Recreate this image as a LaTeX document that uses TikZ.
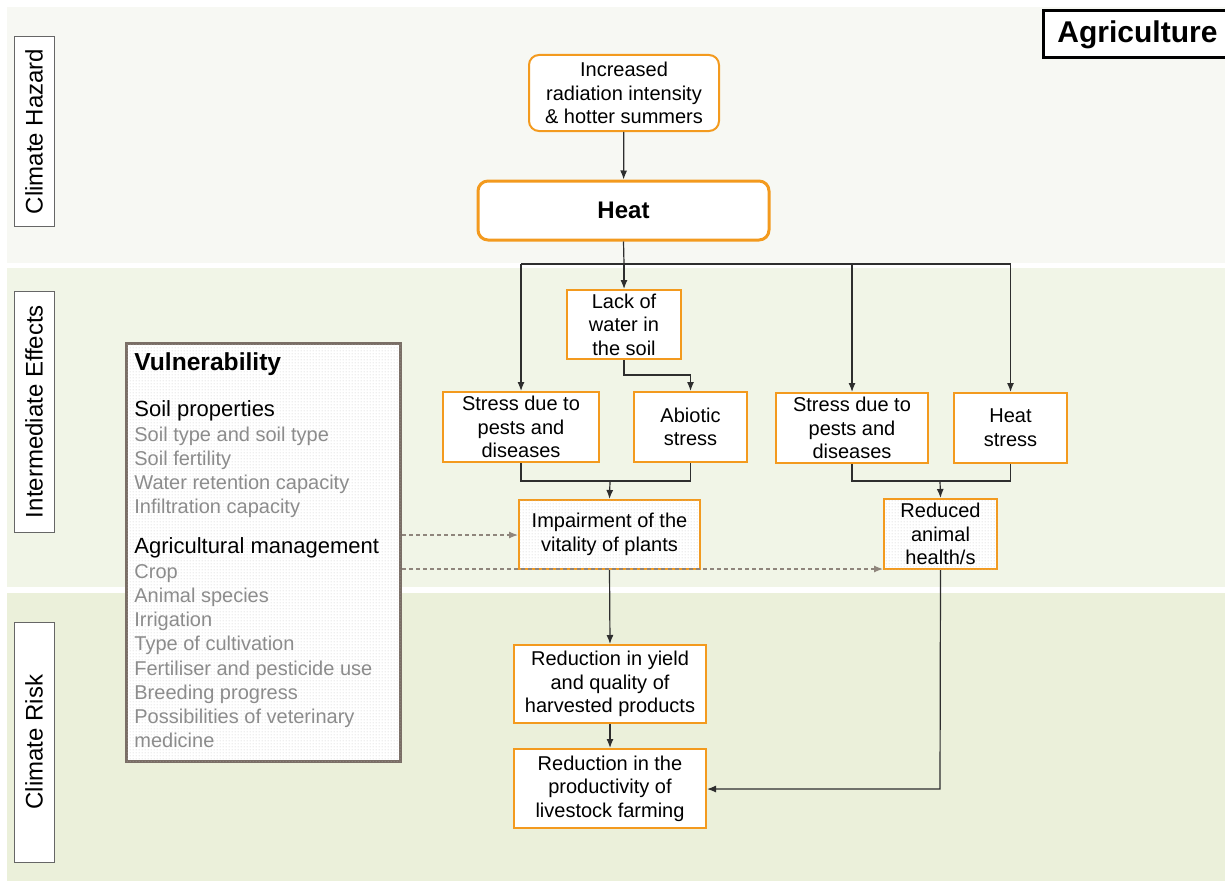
\documentclass[tikz,border=0pt]{standalone}
\usepackage{fontspec}
\setmainfont{Liberation Sans}
\usetikzlibrary{arrows.meta,patterns.meta}

\definecolor{bandA}{HTML}{F7F8F3}
\definecolor{bandB}{HTML}{F1F5E7}
\definecolor{bandC}{HTML}{EBF0DA}
\definecolor{orng}{HTML}{F39A1E}
\definecolor{wire}{HTML}{2E2E2E}
\definecolor{vulbrown}{HTML}{7A6E66}
\definecolor{dashbrown}{HTML}{8F857C}
\definecolor{itemgray}{HTML}{8C8C8C}
\definecolor{dotgray}{HTML}{BDBDBD}

\tikzdeclarepattern{
  name=finedots,
  type=uncolored,
  bounding box={(0,0) and (1.5pt,1.5pt)},
  tile size={(1.5pt,1.5pt)},
  code={\fill (0.75pt,0.75pt) circle (0.3pt);}
}

\tikzset{
  effectbox/.style={draw=orng, line width=1pt, fill=white, align=center,
    font=\fontsize{10}{11.8}\selectfont, inner sep=1pt},
  dotbox/.style={effectbox, postaction={pattern=finedots, pattern color=dotgray}},
  sidelabel/.style={draw=gray!80!black, line width=0.5pt, fill=white, rotate=90,
    font=\fontsize{12}{14}\selectfont, minimum height=20pt, inner sep=1pt},
  flow/.style={draw=wire, line width=0.6pt},
  arr/.style={flow, -{Latex[length=4.5pt,width=3.5pt]}},
  influence/.style={draw=dashbrown, line width=0.6pt, dash pattern=on 2pt off 1.5pt,
    -{Latex[length=4.5pt,width=3.5pt]}},
  vulhead/.style={anchor=base west, inner sep=0pt},
  vulitem/.style={anchor=base west, inner sep=0pt, text=itemgray,
    font=\fontsize{10}{12}\selectfont},
}

\begin{document}
\begin{tikzpicture}[x=0.5pt, y=-0.5pt]
\useasboundingbox (0,0) rectangle (1225,883);
\fill[white] (0,0) rectangle (1225,883);

% horizontal bands
\fill[bandA] (7,7) rectangle (1225,263);
\fill[bandB] (7,268) rectangle (1225,587);
\fill[bandC] (7,593) rectangle (1225,881);

% band labels
\node[sidelabel, minimum width=94.5pt] (lhaz) at (34,131.5) {Climate Hazard};
\node[sidelabel, minimum width=120.5pt] (leff) at (34,411.5) {Intermediate Effects};
\node[sidelabel, minimum width=120pt] (lrisk) at (34,742) {Climate Risk};

% title, its frame runs past the right edge
\draw[black, line width=1.5pt, fill=white] (1043,11) rectangle (1240,58);
\node[anchor=west, inner sep=0pt, font=\bfseries\fontsize{15}{17}\selectfont]
  (title) at (1057,34.5) {Agriculture};

% hazard chain
\node[effectbox, rounded corners=5pt, minimum width=95pt, minimum height=38pt]
  (inc) at (624,93) {Increased\\radiation intensity\\\& hotter summers};
\node[effectbox, rounded corners=5pt, line width=1.5pt, minimum width=145.5pt,
  minimum height=29.5pt, font=\bfseries\fontsize{12}{14}\selectfont]
  (heat) at (623.5,210.5) {Heat};

% intermediate effects
\node[effectbox, minimum width=57pt, minimum height=34.5pt] (lack) at (624,324.5) {Lack of\\water in\\the soil};
\node[effectbox, minimum width=78pt, minimum height=35pt] (pestsA) at (521,427) {Stress due to\\pests and\\diseases};
\node[effectbox, minimum width=56.5pt, minimum height=35pt] (abio) at (690.5,427) {Abiotic\\stress};
\node[effectbox, minimum width=76pt, minimum height=35pt] (pestsB) at (852,428) {Stress due to\\pests and\\diseases};
\node[effectbox, minimum width=56.5pt, minimum height=35pt] (hstress) at (1010.5,428) {Heat\\stress};
\node[dotbox, minimum width=90.5pt, minimum height=34.5pt] (vital) at (609.5,534.5) {Impairment of the\\vitality of plants};
\node[dotbox, minimum width=56.5pt, minimum height=35pt] (animal) at (940.5,534) {Reduced\\animal\\health/s};

% climate risks
\node[effectbox, minimum width=96pt, minimum height=39pt] (yield) at (610,684) {Reduction in yield\\and quality of\\harvested products};
\node[effectbox, minimum width=96pt, minimum height=39.5pt] (prod) at (610,788.5) {Reduction in the\\productivity of\\livestock farming};

% vulnerability panel
\node[draw=vulbrown, line width=1.5pt, fill=white,
  postaction={pattern=finedots, pattern color=dotgray},
  anchor=north west, minimum width=137pt, minimum height=209pt, inner sep=0pt]
  (vul) at (125,342) {};
\node[vulhead, font=\bfseries\fontsize{12.3}{14}\selectfont] (vtitle) at (134,370) {Vulnerability};
\node[vulhead, font=\fontsize{11}{13}\selectfont] (vsoil) at (134,416) {Soil properties};
\node[vulitem] (v1) at (134,441) {Soil type and soil type};
\node[vulitem] (v2) at (134,465) {Soil fertility};
\node[vulitem] (v3) at (134,489) {Water retention capacity};
\node[vulitem] (v4) at (134,513) {Infiltration capacity};
\node[vulhead, font=\fontsize{11}{13}\selectfont] (vman) at (134,553) {Agricultural management};
\node[vulitem] (m1) at (134,578) {Crop};
\node[vulitem] (m2) at (134,602) {Animal species};
\node[vulitem] (m3) at (134,626) {Irrigation};
\node[vulitem] (m4) at (134,650) {Type of cultivation};
\node[vulitem] (m5) at (134,675) {Fertiliser and pesticide use};
\node[vulitem] (m6) at (134,699) {Breeding progress};
\node[vulitem] (m7) at (134,723) {Possibilities of veterinary};
\node[vulitem] (m8) at (134,747) {medicine};

% connectors
\coordinate (bus) at (624,264);
\coordinate (joinA) at (610,481);
\coordinate (joinB) at (940,481);
\coordinate (lackturn) at (624,375);
\coordinate (animalturn) at (940,789);

\draw[arr] (inc) -- (heat);
\draw[flow] (heat.south) -- (bus);
\draw[flow] (pestsA.north |- bus) -- (hstress.north |- bus);
\draw[arr] (bus) -- (lack.north);
\draw[arr] (pestsA.north |- bus) -- (pestsA.north);
\draw[arr] (pestsB.north |- bus) -- (pestsB.north);
\draw[arr] (hstress.north |- bus) -- (hstress.north);
\draw[arr] (lack.south) -- (lackturn) -| (abio.north);

\draw[flow] (pestsA.south) |- (joinA) -| (abio.south);
\draw[arr] (joinA) -- (vital.north);
\draw[flow] (pestsB.south) |- (joinB) -| (hstress.south);
\draw[arr] (joinB) -- (animal.north);

\draw[arr] (vital.south) -- (yield.north);
\draw[arr] (yield.south) -- (prod.north);
\draw[arr] (animal.south) -- (animalturn) -- (prod.east |- animalturn);

\draw[influence] (vul.east |- 0,535) -- (vital.west |- 0,535);
\draw[influence] (vul.east |- 0,569) -- (animal.west |- 0,569);
\end{tikzpicture}
\end{document}
